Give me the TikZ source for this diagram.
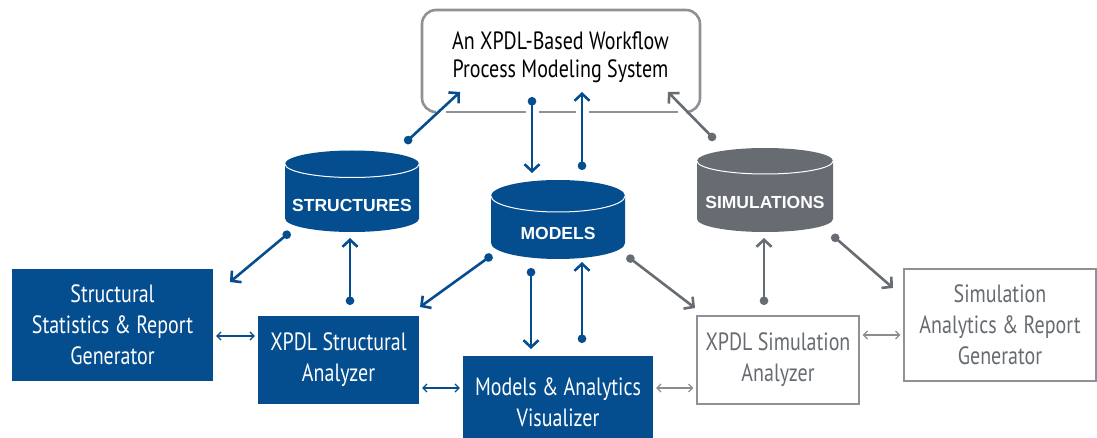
\documentclass[tikz,border=0pt]{standalone}
\usepackage{fontspec}
\usetikzlibrary{arrows.meta}
\newfontfamily\lbl{PT Sans}[FakeStretch=0.8]
\newfontfamily\cylfont{Liberation Sans}
\definecolor{xblue}{HTML}{044D8E}
\definecolor{xgray}{HTML}{676C73}
\definecolor{xlgray}{HTML}{8A8C8F}
\definecolor{xtgray}{HTML}{676B71}
\definecolor{xframe}{HTML}{8E9195}
\tikzset{
  boxtext/.style={font={\lbl\fontsize{25}{31}\selectfont}, align=center, inner sep=0pt},
  bluebox/.style={boxtext, fill=xblue, text=white, rectangle},
  graybox/.style={boxtext, draw=xframe, line width=1.3pt, fill=white, text=xtgray, rectangle},
  cyltext/.style={font={\cylfont\bfseries\fontsize{17.5}{20}\selectfont}, text=white, inner sep=0pt},
  bigarrow/.style={line width=2.6pt, {Circle[length=8.5pt]}-{Straight Barb[length=7pt,width=15pt]}},
  bluearrow/.style={bigarrow, draw=xblue},
  grayarrow/.style={bigarrow, draw=xgray},
  thinarrow/.style={line width=1.2pt, {Straight Barb[length=4pt,width=8pt]}-{Straight Barb[length=4pt,width=8pt]}},
}
\newcommand\mycyl[9]{% name, cx, topcy, botcy, rx, ry, color, text, text y
  \fill[#7] ({#2-#5},#3) arc[start angle=180,end angle=0,x radius=#5pt,y radius=#6pt]
     -- ({#2+#5},#4) arc[start angle=0,end angle=-180,x radius=#5pt,y radius=#6pt] -- cycle;
  \draw[white, line width=1pt] ({#2-#5},#3) arc[start angle=180,end angle=360,x radius=#5pt,y radius=#6pt];
  \node[cyltext] (#1) at (#2,#9) {#8};
}
\begin{document}
\begin{tikzpicture}[x=1pt,y=-1pt]
\useasboundingbox (0,0) rectangle (1097,438);
% top system box
\node[font={\lbl\fontsize{25}{28}\selectfont}, align=center, inner sep=0pt] (sys) at (560.5,57) {An XPDL-Based Workflow\\Process Modeling System};
\draw[xframe, line width=2.6pt, rounded corners=14pt] (436,112) -- (422,112) -- (422,10) -- (700,10) -- (700,112) -- (686,112);
\draw[xframe, line width=2.6pt] (446,112) -- (526,112) (539,112) -- (576,112) (589,112) -- (678,112);
% cylinders
\mycyl{struct}{352}{164}{218.5}{67}{13.5}{xblue}{STRUCTURES}{205.5}
\mycyl{models}{558}{196}{243}{67}{16}{xblue}{MODELS}{233}
\mycyl{sims}{765}{161}{219}{68}{13}{xgray}{SIMULATIONS}{202}
% boxes
\node[bluebox, minimum width=201pt, minimum height=112pt] (stats) at (112.5,325) {Structural\\Statistics \& Report\\Generator};
\node[bluebox, minimum width=161pt, minimum height=88pt] (sana) at (338.5,360) {XPDL Structural\\Analyzer};
\node[bluebox, minimum width=190pt, minimum height=92pt] (vis) at (558,402) {Models \& Analytics\\Visualizer};
\node[graybox, minimum width=162pt, minimum height=88pt] (siman) at (778,360) {XPDL Simulation\\Analyzer};
\node[graybox, minimum width=192pt, minimum height=112pt] (simrep) at (1000,325) {Simulation\\Analytics \& Report\\Generator};
% connector end points
\coordinate (a1s) at (405,143); \coordinate (a1e) at (460,92);
\coordinate (a2s) at (532,97);  \coordinate (a2e) at (532,173);
\coordinate (a3s) at (582,170); \coordinate (a3e) at (582,92);
\coordinate (a4s) at (715,140); \coordinate (a4e) at (668,92);
\coordinate (a5s) at (290,232); \coordinate (a5e) at (230,282);
\coordinate (a6s) at (350,305); \coordinate (a6e) at (350,238);
\coordinate (a7s) at (492,255); \coordinate (a7e) at (420,307);
\coordinate (a8s) at (531,268); \coordinate (a8e) at (531,349);
\coordinate (a9s) at (582,343); \coordinate (a9e) at (582,262);
\coordinate (a10s) at (627,256); \coordinate (a10e) at (695,308);
\coordinate (a11s) at (764,305); \coordinate (a11e) at (764,238);
\coordinate (a12s) at (832,235); \coordinate (a12e) at (893,288);
\draw[bluearrow] (a1s) -- (a1e);
\draw[bluearrow] (a2s) -- (a2e);
\draw[bluearrow] (a3s) -- (a3e);
\draw[grayarrow] (a4s) -- (a4e);
\draw[bluearrow] (a5s) -- (a5e);
\draw[bluearrow] (a6s) -- (a6e);
\draw[bluearrow] (a7s) -- (a7e);
\draw[bluearrow] (a8s) -- (a8e);
\draw[bluearrow] (a9s) -- (a9e);
\draw[grayarrow] (a10s) -- (a10e);
\draw[grayarrow] (a11s) -- (a11e);
\draw[grayarrow] (a12s) -- (a12e);
% thin double arrows
\draw[thinarrow, xblue] ([xshift=3pt]stats.east |- 0,336) -- ([xshift=-3pt]sana.west |- 0,336);
\draw[thinarrow, xblue] ([xshift=3pt]sana.east |- 0,388) -- ([xshift=-3pt]vis.west |- 0,388);
\draw[thinarrow, xlgray] ([xshift=3pt]vis.east |- 0,388) -- ([xshift=-3pt]siman.west |- 0,388);
\draw[thinarrow, xlgray] ([xshift=3pt]siman.east |- 0,335) -- ([xshift=-3pt]simrep.west |- 0,335);
\end{tikzpicture}
\end{document}
